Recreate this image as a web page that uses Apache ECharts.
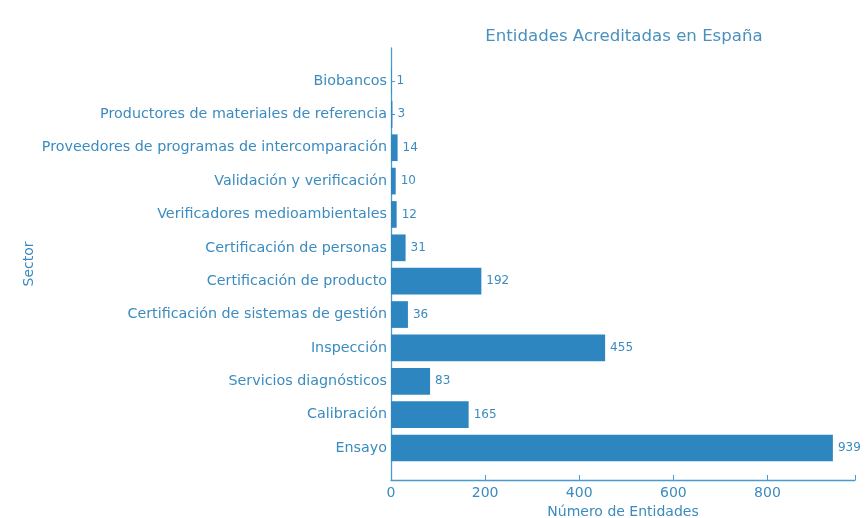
<!DOCTYPE html>
<html>
<head>
<meta charset="utf-8">
<script src="https://cdn.jsdelivr.net/npm/echarts@6/dist/echarts.min.js"></script>
<style>html,body{margin:0;padding:0;background:#fff}#c{width:868px;height:518px}</style>
</head>
<body>
<div id="c"></div>
<script>
const categories = ["Biobancos","Productores de materiales de referencia","Proveedores de programas de intercomparación","Validación y verificación","Verificadores medioambientales","Certificación de personas","Certificación de producto","Certificación de sistemas de gestión","Inspección","Servicios diagnósticos","Calibración","Ensayo"];
const values = [1,3,14,10,12,31,192,36,455,83,165,939];
const xTicks = [0,200,400,600,800];
const xMax = 986;

const textColor = '#3a8bbf';
const barColor = '#2e86c1';
const lineColor = '#4a9ad0';
const font = 'DejaVu Sans';

const chart = echarts.init(document.getElementById('c'));
chart.setOption({
  animation: false,
  title: {
    text: 'Entidades Acreditadas en España',
    left: 619, top: 23, textAlign: 'center',
    textStyle: {color: '#4a90bd', fontFamily: font, fontSize: 16.6, fontWeight: 'normal'}
  },
  grid: [
    {left: 391, right: 13, top: 64.3, height: 400.4, containLabel: false, outerBoundsMode: 'none'},
    {left: 391, right: 13, top: 48, height: 432, containLabel: false, outerBoundsMode: 'none'}
  ],
  xAxis: [
    {gridIndex: 0, type: 'value', min: 0, max: xMax, show: false},
    {gridIndex: 1, type: 'value', min: 0, max: xMax, interval: 200,
     axisLine: {show: true, onZero: false, lineStyle: {color: lineColor, width: 1.3}},
     axisTick: {show: true, inside: true, length: 5, lineStyle: {color: lineColor}},
     splitLine: {show: false},
     axisLabel: {color: textColor, fontFamily: font, fontSize: 14, margin: 6,
       formatter: v => xTicks.indexOf(v) >= 0 ? String(v) : ''},
     name: 'Número de Entidades', nameLocation: 'middle', nameGap: 21,
     nameTextStyle: {color: textColor, fontFamily: font, fontSize: 14}}
  ],
  yAxis: [
    {gridIndex: 0, type: 'category', data: categories, inverse: true,
     axisLine: {show: false},
     axisTick: {show: true, inside: true, alignWithLabel: true, length: 4, lineStyle: {color: lineColor}},
     axisLabel: {color: textColor, fontFamily: font, fontSize: 14.3, margin: 4}},
    {gridIndex: 1, type: 'value', min: 0, max: 1,
     axisLine: {show: true, onZero: false, lineStyle: {color: lineColor, width: 1.3}},
     axisTick: {show: false}, axisLabel: {show: false}, splitLine: {show: false},
     name: 'Sector', nameLocation: 'middle', nameGap: 355,
     nameTextStyle: {color: textColor, fontFamily: font, fontSize: 14}}
  ],
  series: [{
    type: 'bar', xAxisIndex: 0, yAxisIndex: 0,
    data: values, barWidth: '80%',
    itemStyle: {color: barColor},
    label: {show: true, position: 'right', distance: 5, color: textColor, fontFamily: font, fontSize: 12}
  }]
});
</script>
</body>
</html>
